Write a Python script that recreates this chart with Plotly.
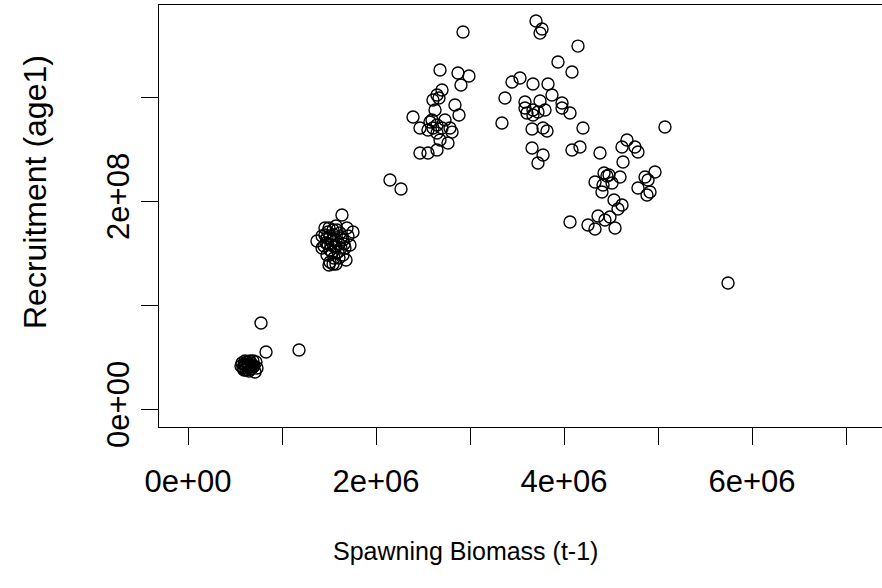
import plotly.graph_objects as go

# Spawning biomass (t-1), in units of 1e6
biomass_m = [
    0.777, 1.181, 0.830,
    0.585, 0.606, 0.628, 0.649, 0.670, 0.691, 0.617, 0.660, 0.713, 0.596, 0.638, 0.681, 0.723, 0.660, 0.564,
    0.606, 0.638, 0.670, 0.702, 0.574, 0.649, 0.691, 0.617, 0.734, 0.596,
    1.638, 1.755, 1.691, 1.372, 1.457, 1.489, 1.511, 1.543, 1.574, 1.468, 1.521, 1.564, 1.606, 1.649, 1.479,
    1.426, 1.596, 1.649, 1.553, 1.511, 1.574, 1.500, 1.670, 1.617, 1.702, 1.723, 1.681, 1.532, 1.447, 1.574,
    1.457, 1.500, 1.532, 1.553, 1.585, 1.511, 1.479, 1.543, 1.628, 1.606, 1.660, 1.426, 1.574, 1.489, 1.628,
    2.149, 2.266,
    2.926, 2.681, 2.872, 2.989, 2.904, 2.702, 2.649, 2.606, 2.840, 2.883, 2.394, 2.468, 2.596, 2.649, 2.702,
    2.787, 2.649, 2.766, 2.468, 2.553, 2.649, 2.574, 2.628, 2.670, 2.734, 2.553, 2.681, 2.809, 2.606,
    3.702, 3.766, 3.745, 4.149, 3.936, 4.085, 3.447, 3.532, 3.670, 3.830, 3.372, 3.585, 3.745, 3.872, 3.979,
    3.979, 4.064, 3.585, 3.606, 3.670, 3.723, 3.798, 3.670, 3.340, 3.660, 3.777, 3.819, 4.202, 3.660, 3.777,
    3.723, 4.085, 4.170, 5.074,
    4.383, 4.670, 4.617, 4.755, 4.787, 4.628, 4.426, 4.479, 4.330, 4.596, 4.415, 4.404, 4.511, 4.862, 4.968,
    4.787, 4.894, 4.915, 4.883, 4.532, 4.617, 4.574, 4.362, 4.489, 4.436, 4.255, 4.330, 4.543, 4.064, 4.457,
    5.745,
]

# Recruitment (age1), in units of 1e8
recruit_e8 = [
    0.827, 0.567, 0.548,
    0.394, 0.423, 0.452, 0.413, 0.442, 0.404, 0.375, 0.385, 0.356, 0.433, 0.404, 0.423, 0.452, 0.462, 0.413,
    0.462, 0.433, 0.385, 0.413, 0.442, 0.365, 0.462, 0.394, 0.394, 0.375,
    1.865, 1.702, 1.740, 1.615, 1.740, 1.702, 1.663, 1.721, 1.625, 1.596, 1.577, 1.558, 1.587, 1.625, 1.644,
    1.663, 1.510, 1.481, 1.452, 1.413, 1.394, 1.385, 1.548, 1.692, 1.663, 1.577, 1.433, 1.510, 1.567, 1.760,
    1.673, 1.740, 1.625, 1.673, 1.721, 1.529, 1.481, 1.394, 1.548, 1.452, 1.587, 1.548, 1.567, 1.587, 1.644,
    2.202, 2.115,
    3.625, 3.260, 3.231, 3.202, 3.115, 3.067, 3.019, 2.971, 2.923, 2.827, 2.808, 2.702, 2.779, 2.731, 2.702,
    2.702, 2.654, 2.558, 2.462, 2.462, 2.490, 2.760, 2.875, 2.990, 2.779, 2.683, 2.587, 2.663, 2.702,
    3.731, 3.654, 3.615, 3.490, 3.337, 3.240, 3.144, 3.183, 3.125, 3.125, 2.990, 2.952, 2.962, 3.019, 2.942,
    2.894, 2.846, 2.894, 2.846, 2.875, 2.856, 2.875, 2.827, 2.750, 2.692, 2.702, 2.673, 2.702, 2.510, 2.442,
    2.365, 2.490, 2.519, 2.712,
    2.462, 2.587, 2.519, 2.519, 2.471, 2.375, 2.269, 2.250, 2.183, 2.231, 2.154, 2.087, 2.173, 2.231, 2.279,
    2.125, 2.202, 2.087, 2.058, 2.010, 1.962, 1.923, 1.856, 1.846, 1.817, 1.769, 1.731, 1.740, 1.798, 2.240,
    1.212,
]

x_vals = [v * 1e6 for v in biomass_m]
y_vals = [v * 1e8 for v in recruit_e8]

x_ticks = [0, 1e6, 2e6, 3e6, 4e6, 5e6, 6e6, 7e6]
x_labels = ["0e+00", "", "2e+06", "", "4e+06", "", "6e+06", ""]
y_ticks = [0, 1e8, 2e8, 3e8]
y_labels = ["0e+00", "", "2e+08", ""]

FONT = "Liberation Sans, Arial, sans-serif"
TICK_FS = 31
XT_FS = 25
YT_FS = 32

fig = go.Figure()
fig.add_trace(go.Scatter(
    x=x_vals, y=y_vals, mode="markers",
    marker=dict(symbol="circle-open", size=12, color="black", line=dict(width=1.4)),
    showlegend=False, hoverinfo="x+y",
))

fig.update_layout(
    width=882, height=588,
    margin=dict(l=159, r=0, t=5, b=161),
    paper_bgcolor="white", plot_bgcolor="white",
    font=dict(family=FONT, size=TICK_FS, color="black"),
    xaxis=dict(
        range=[-0.3085e6, 7.383e6], tickvals=x_ticks, ticktext=x_labels,
        ticks="outside", ticklen=17, tickwidth=1, tickcolor="black",
        showline=True, linecolor="black", linewidth=1, mirror=True,
        showgrid=False, zeroline=False, ticklabelstandoff=10,
        tickfont=dict(family=FONT, size=TICK_FS, color="black"),
    ),
    yaxis=dict(
        range=[-0.173e8, 3.885e8], tickvals=y_ticks, ticktext=y_labels,
        ticks="outside", ticklen=17, tickwidth=1, tickcolor="black",
        showline=True, linecolor="black", linewidth=1, mirror=False,
        showgrid=False, zeroline=False, tickangle=-90,
        tickfont=dict(family=FONT, size=TICK_FS, color="black"),
    ),
    annotations=[
        dict(text="Spawning Biomass (t-1)", xref="paper", yref="paper",
             x=(465 - 159) / 723, y=(427 - 551) / 422, xanchor="center", yanchor="middle",
             showarrow=False, font=dict(family=FONT, size=XT_FS, color="black")),
        dict(text="Recruitment (age1)", xref="paper", yref="paper",
             x=(35 - 159) / 723, y=(427 - 192) / 422, xanchor="center", yanchor="middle",
             textangle=-90, showarrow=False, font=dict(family=FONT, size=YT_FS, color="black")),
    ],
)

fig.write_html("out.html")
